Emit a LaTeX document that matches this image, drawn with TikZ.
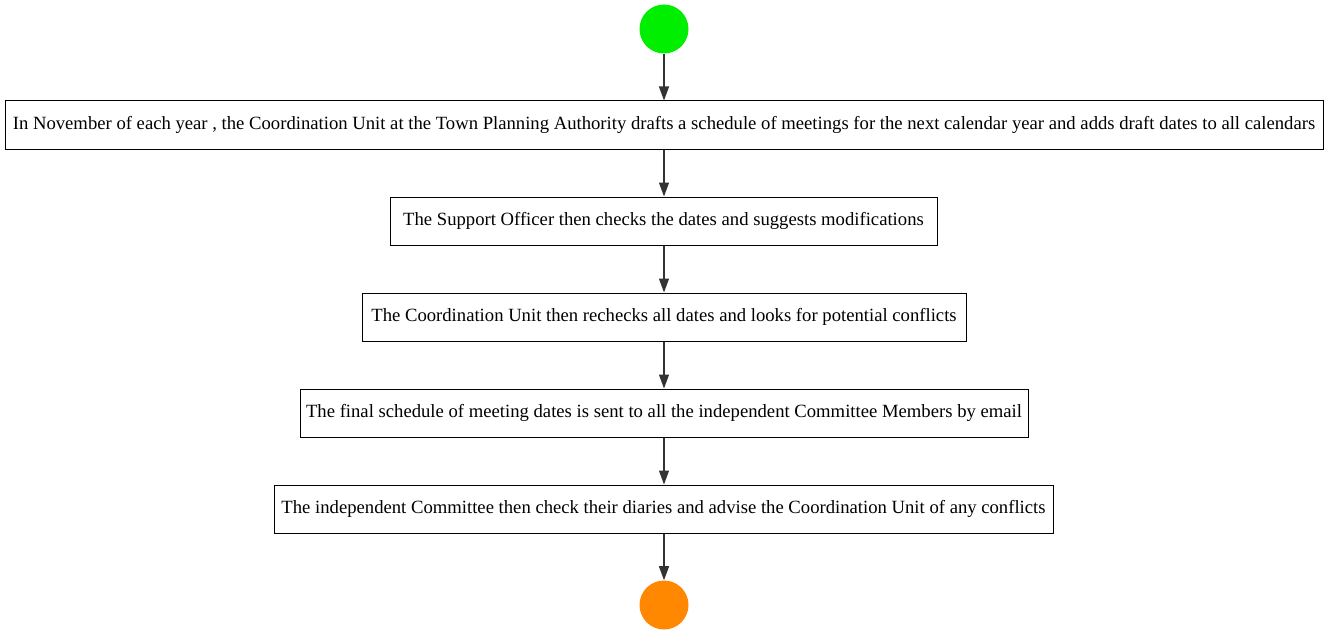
\documentclass[tikz,border=0pt]{standalone}
\usepackage{fontspec}
\setmainfont{Liberation Serif}
\usetikzlibrary{arrows.meta}
\begin{document}
\begin{tikzpicture}[x=0.75pt,y=-0.75pt,
  stepbox/.style={draw=black,line width=0.75pt,fill=white,minimum height=36pt,inner sep=0pt,font=\fontsize{14pt}{16pt}\selectfont},
  startdot/.style={circle,fill={rgb,255:red,0;green,238;blue,0},minimum size=36.75pt,inner sep=0pt},
  enddot/.style={circle,fill={rgb,255:red,255;green,136;blue,0},minimum size=36.75pt,inner sep=0pt},
  flow/.style={draw={rgb,255:red,51;green,51;blue,51},line width=0.9pt,-{Triangle[length=10.5pt,width=7.5pt]}}]
\useasboundingbox (0,0) rectangle (1328,635);
\node[startdot] (s) at (664,29) {};
\node[stepbox,minimum width=988.5pt] (a) at (664,125) {In November of each year , the Coordination Unit at the Town Planning Authority drafts a schedule of meetings for the next calendar year and adds draft dates to all calendars};
\node[stepbox,minimum width=410.25pt] (b) at (663.5,221) {The Support Officer then checks the dates and suggests modifications};
\node[stepbox,minimum width=453pt] (c) at (664,317) {The Coordination Unit then rechecks all dates and looks for potential conflicts};
\node[stepbox,minimum width=546pt] (d) at (664,413) {The final schedule of meeting dates is sent to all the independent Committee Members by email};
\node[stepbox,minimum width=584.25pt] (e) at (663.5,509) {The independent Committee then check their diaries and advise the Coordination Unit of any conflicts};
\node[enddot] (f) at (664,605) {};
\draw[flow] (s) -- (a);
\draw[flow] (a) -- (a|-b.north);
\draw[flow] (a|-b.south) -- (a|-c.north);
\draw[flow] (c) -- (d);
\draw[flow] (d) -- (a|-e.north);
\draw[flow] (a|-e.south) -- (f);
\end{tikzpicture}
\end{document}
